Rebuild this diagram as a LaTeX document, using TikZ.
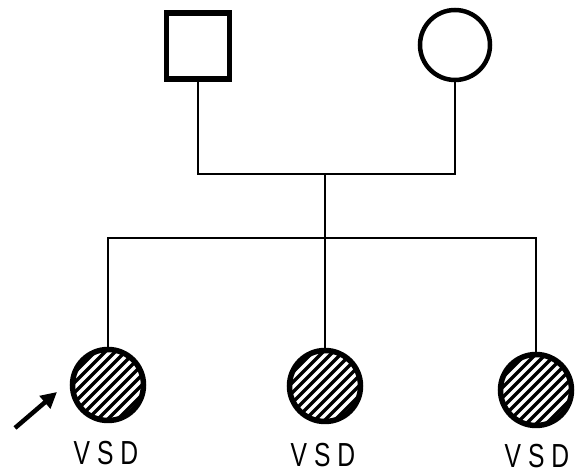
\documentclass[tikz,border=0pt]{standalone}
\usepackage{fontspec}
\setmainfont{Liberation Sans}
\usetikzlibrary{arrows.meta}
\newlength{\pxu}\setlength{\pxu}{0.75pt}
\tikzset{
  conn/.style={line width=2.8\pxu, line join=miter},
  male/.style={draw, line width=5.5\pxu, minimum width=63\pxu, minimum height=66\pxu, inner sep=0pt},
  female/.style={draw, circle, line width=4.5\pxu, minimum size=70\pxu, inner sep=0pt},
  affected/.style={draw, circle, line width=5.5\pxu, minimum size=71\pxu, inner sep=0pt,
    path picture={
      \foreach \k in {-66,-56,...,66}
        \draw[line width=3.4\pxu] ([xshift=\k\pxu]path picture bounding box.center)
          ++(-50\pxu,-50\pxu) -- ++(100\pxu,100\pxu);
    }},
  lbl/.style={font=\fontsize{25}{25}\selectfont, inner sep=0pt}
}
\newcommand{\vsdtext}{\scalebox{0.74}[1]{V\hspace{7pt}S\hspace{7pt}D}}
\begin{document}
\begin{tikzpicture}[x=0.75pt,y=-0.75pt]
\useasboundingbox (0,0) rectangle (583,473);
% parents
\node[male] (man) at (198,46) {};
\node[female] (woman) at (455,45) {};
\coordinate (mate) at (325,174);
\coordinate (sib) at (325,238);
% children
\node[affected] (c1) at (108,385) {};
\node[affected] (c2) at (325,386) {};
\node[affected] (c3) at (536,390) {};
% connectors
\draw[conn] (man.south) |- (mate) -| (woman.south);
\draw[conn] (mate) -- (sib);
\draw[conn] (c1.north) |- (sib) -| (c3.north);
\draw[conn] (sib) -- (c2.north);
% labels
\node[lbl] (l1) at (106,453) {\vsdtext};
\node[lbl] (l2) at (323,455) {\vsdtext};
\node[lbl] (l3) at (537,456) {\vsdtext};
% proband arrow
\coordinate (atail) at (15,428);
\coordinate (ahead) at (57,392);
\draw[line width=4.5\pxu, -{Triangle[length=12pt,width=12pt]}] (atail) -- (ahead);
\end{tikzpicture}
\end{document}
